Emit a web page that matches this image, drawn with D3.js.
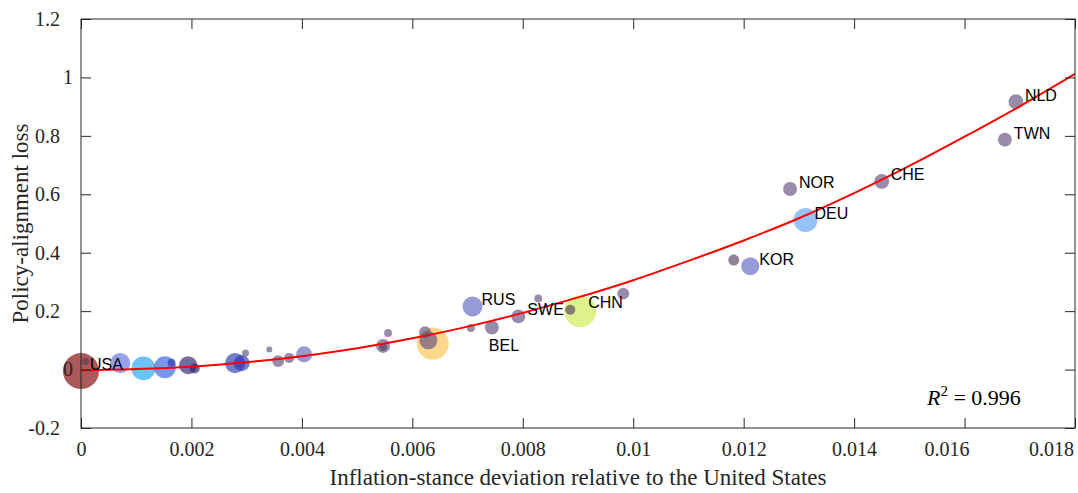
<!DOCTYPE html>
<html>
<head>
<meta charset="utf-8">
<script src="https://cdn.jsdelivr.net/npm/d3@7"></script>
<style>
body { margin: 0; background: #fff; }
</style>
</head>
<body>
<div id="chart-area"></div>
<script>
// country bubbles: inflation-stance deviation (x) vs policy-alignment loss (y)
const countries = ["USA", "", "", "", "", "", "", "", "", "", "", "", "", "", "", "", "", "", "", "", "",
  "RUS", "", "BEL", "SWE", "", "CHN", "", "", "", "KOR", "NOR", "DEU", "CHE", "TWN", "NLD"];
const stance = [0, 0.000085, 0.00071, 0.00113, 0.00152, 0.00164, 0.00194, 0.00206, 0.00279, 0.00291,
  0.00298, 0.00341, 0.00357, 0.00377, 0.00404, 0.00547, 0.00547, 0.00556, 0.00623, 0.00637, 0.00629,
  0.00709, 0.00706, 0.00744, 0.00792, 0.00828, 0.00904, 0.00886, 0.00982, 0.01182, 0.01212,
  0.01284, 0.01312, 0.01450, 0.01673, 0.01693];
const loss = [-0.005, 0.028, 0.022, 0.004, 0.008, 0.023, 0.015, 0.004, 0.022, 0.022,
  0.057, 0.069, 0.029, 0.040, 0.052, 0.081, 0.077, 0.125, 0.128, 0.089, 0.100,
  0.216, 0.142, 0.144, 0.182, 0.243, 0.200, 0.205, 0.260, 0.375, 0.354,
  0.618, 0.512, 0.644, 0.787, 0.917];
const weight = [100, 3.8, 31, 44, 37, 4.9, 25, 7.7, 31, 20,
  3.8, 2.8, 11, 7.7, 20, 15, 4.9, 4.9, 11, 79, 25,
  31, 4.9, 15, 15, 4.9, 79, 7.7, 11, 9.3, 25,
  15, 44, 17, 15, 17];
const tone = ["red", "plum", "violet", "cyan", "blue", "navy", "indigo", "indigo", "navy", "navy",
  "slate", "slate", "slate", "slate", "lavender", "slate", "plum", "slate", "slate", "orange", "slate",
  "lavender", "slate", "slate", "slate", "slate", "lime", "plum", "slate", "plum", "lavender",
  "slate", "sky", "slate", "slate", "slate"];

// fitted curve
const fitStance = [0, 0.001, 0.002, 0.003, 0.004, 0.005, 0.006, 0.007, 0.008, 0.009,
  0.010, 0.011, 0.012, 0.013, 0.014, 0.015, 0.016, 0.017, 0.018];
const fitLoss = [-0.002, 0.002, 0.010, 0.025, 0.046, 0.073, 0.107, 0.147, 0.194, 0.247,
  0.306, 0.372, 0.442, 0.518, 0.604, 0.697, 0.797, 0.901, 1.012];

const xTicks = [0, 0.002, 0.004, 0.006, 0.008, 0.01, 0.012, 0.014, 0.016, 0.018];
const xTickLabels = ["0", "0.002", "0.004", "0.006", "0.008", "0.01", "0.012", "0.014", "0.016", "0.018"];
const yTicks = [-0.2, 0, 0.2, 0.4, 0.6, 0.8, 1, 1.2];
const yTickLabels = ["-0.2", "0", "0.2", "0.4", "0.6", "0.8", "1", "1.2"];
const rSquared = "0.996";

const toneColor = {
  red: "#800000", plum: "#563c5e", violet: "#5e6de1", cyan: "#1aa3ee", blue: "#3060e0",
  navy: "#2a35b0", indigo: "#2c1d70", slate: "#614e7d", lavender: "#5e65c2",
  sky: "#5ea3f8", orange: "#ffc14e", lime: "#caeb4e"
};
// label nudges in px (default sits to the right of the bubble)
const labelNudge = { BEL: [-3, 23], CHN: [8, -3] };

const W = 1078, H = 493;
const mLeft = 81, mRight = 1075, mTop = 19, mBottom = 428;
const serif = "'Liberation Serif', 'Times New Roman', serif";
const sans = "'Liberation Sans', Arial, Helvetica, sans-serif";
const ink = "#262626";

const svg = d3.select("#chart-area").append("svg")
  .attr("width", W)
  .attr("height", H)
  .style("display", "block");

svg.append("rect").attr("width", W).attr("height", H).attr("fill", "#fff");

const x = d3.scaleLinear().domain([0, 0.018]).range([mLeft, mRight]);
const y = d3.scaleLinear().domain([-0.2, 1.2]).range([mBottom, mTop]);
const r = d3.scaleSqrt().domain([0, 100]).range([0, 18]);

svg.append("clipPath").attr("id", "plot-clip")
  .append("rect").attr("x", mLeft).attr("y", mTop)
  .attr("width", mRight - mLeft).attr("height", mBottom - mTop);

// bubbles, big ones underneath
const data = countries.map((c, i) => ({ c, sx: stance[i], ly: loss[i], w: weight[i], t: tone[i] }));
const ordered = data.slice().sort((a, b) => b.w - a.w);

// bubbles are not clipped (USA hangs over the left axis)
svg.append("g").selectAll("circle")
  .data(ordered).enter().append("circle")
  .attr("cx", d => x(d.sx))
  .attr("cy", d => y(d.ly))
  .attr("r", d => r(d.w))
  .attr("fill", d => toneColor[d.t])
  .attr("fill-opacity", 0.65);

// fit line
const line = d3.line()
  .x((d, i) => x(fitStance[i]))
  .y(d => y(d))
  .curve(d3.curveMonotoneX);
svg.append("path")
  .attr("clip-path", "url(#plot-clip)")
  .attr("d", line(fitLoss))
  .attr("fill", "none")
  .attr("stroke", "#ff0000")
  .attr("stroke-width", 2);

// country labels
svg.append("g").selectAll("text")
  .data(data.filter(d => d.c != "")).enter().append("text")
  .attr("x", d => x(d.sx) + (labelNudge[d.c] ? labelNudge[d.c][0] : 9))
  .attr("y", d => y(d.ly) + (labelNudge[d.c] ? labelNudge[d.c][1] : -1))
  .attr("font-family", sans)
  .attr("font-size", 16)
  .attr("fill", "#000")
  .text(d => d.c);

// axes with inward ticks on all four sides
const tickLen = 10;
const axisB = d3.axisBottom(x).tickValues(xTicks)
  .tickFormat((d, i) => xTickLabels[i]).tickSizeInner(-tickLen).tickSizeOuter(0).tickPadding(14);
const axisT = d3.axisTop(x).tickValues(xTicks).tickFormat("").tickSizeInner(-tickLen).tickSizeOuter(0);
const axisL = d3.axisLeft(y).tickValues(yTicks)
  .tickFormat((d, i) => yTickLabels[i]).tickSizeInner(-tickLen).tickSizeOuter(0).tickPadding(8);
const axisR = d3.axisRight(y).tickValues(yTicks).tickFormat("").tickSizeInner(-tickLen).tickSizeOuter(0);

const gB = svg.append("g").attr("transform", `translate(0,${mBottom})`).call(axisB);
const gT = svg.append("g").attr("transform", `translate(0,${mTop})`).call(axisT);
const gL = svg.append("g").attr("transform", `translate(${mLeft},0)`).call(axisL);
const gR = svg.append("g").attr("transform", `translate(${mRight},0)`).call(axisR);

[gB, gT, gL, gR].forEach(g => {
  g.select(".domain").remove();
  g.selectAll(".tick line").attr("stroke", ink);
  g.selectAll(".tick text").attr("font-family", serif).attr("font-size", 20).attr("fill", ink);
});

// the last two x labels sit pulled in from their ticks
gB.selectAll(".tick text").attr("dx", (d, i) => (i == 8 ? -18 : i == 9 ? -24 : 0));
// longer y labels end further left than the single digits
gL.selectAll(".tick text").attr("dx", (d, i) => (yTickLabels[i].length > 1 ? -13 : 0));

svg.append("rect")
  .attr("x", mLeft).attr("y", mTop)
  .attr("width", mRight - mLeft).attr("height", mBottom - mTop)
  .attr("fill", "none").attr("stroke", ink).attr("stroke-width", 1);

// axis titles
svg.append("text")
  .attr("x", (mLeft + mRight) / 2).attr("y", 485)
  .attr("text-anchor", "middle")
  .attr("font-family", serif).attr("font-size", 23).attr("fill", ink)
  .text("Inflation-stance deviation relative to the United States");

svg.append("text")
  .attr("transform", `translate(28,${(mTop + mBottom) / 2}) rotate(-90)`)
  .attr("text-anchor", "middle")
  .attr("font-family", serif).attr("font-size", 23).attr("fill", ink)
  .text("Policy-alignment loss");

// R^2 note
const note = svg.append("text")
  .attr("x", 927).attr("y", 405)
  .attr("font-family", serif).attr("font-size", 22).attr("fill", "#000");
note.append("tspan").attr("font-style", "italic").text("R");
note.append("tspan").attr("font-size", 15).attr("dy", -9).text("2");
note.append("tspan").attr("dy", 9).text(" = " + rSquared);
</script>
</body>
</html>
